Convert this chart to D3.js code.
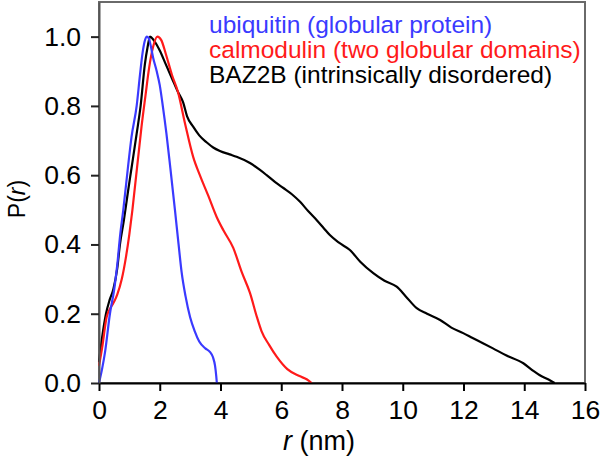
<!DOCTYPE html>
<html>
<head>
<meta charset="utf-8">
<script src="https://cdn.jsdelivr.net/npm/d3@7/dist/d3.min.js"></script>
<style>
  html, body { margin: 0; padding: 0; background: #fff; }
  svg { display: block; font-family: "Liberation Sans", Arial, Helvetica, sans-serif; }
</style>
</head>
<body>
<svg id="chart" width="600" height="461"></svg>
<script>
// ---- data ----
const ubiquitinR = [0, 0.1, 0.2, 0.36, 0.5, 0.6, 0.7, 0.8, 0.95, 1.07, 1.24, 1.35, 1.43, 1.5, 1.57, 1.64, 1.7, 1.78, 1.9, 2.0, 2.1, 2.22, 2.35, 2.5, 2.62, 2.72, 2.85, 3.0, 3.15, 3.3, 3.5, 3.65, 3.75, 3.82, 3.86, 3.88];
const ubiquitinP = [0, 0.04, 0.09, 0.2, 0.27, 0.34, 0.43, 0.5, 0.62, 0.71, 0.8, 0.89, 0.95, 0.985, 1.0, 0.995, 0.975, 0.94, 0.9, 0.86, 0.8, 0.72, 0.62, 0.5, 0.4, 0.32, 0.25, 0.19, 0.15, 0.12, 0.1, 0.09, 0.075, 0.05, 0.02, 0];

const calmodulinR = [0, 0.1, 0.25, 0.4, 0.5, 0.6, 0.75, 0.89, 1.0, 1.1, 1.2, 1.3, 1.4, 1.53, 1.65, 1.78, 1.92, 2.05, 2.2, 2.4, 2.6, 2.83, 3.1, 3.32, 3.6, 3.87, 4.1, 4.42, 4.7, 4.97, 5.2, 5.35, 5.6, 5.85, 6.2, 6.6, 6.85, 7.0];
const calmodulinP = [0.05, 0.1, 0.19, 0.22, 0.235, 0.255, 0.3, 0.365, 0.43, 0.5, 0.58, 0.66, 0.74, 0.83, 0.91, 0.97, 1.0, 0.99, 0.95, 0.89, 0.84, 0.75, 0.653, 0.6, 0.54, 0.48, 0.44, 0.39, 0.32, 0.26, 0.19, 0.15, 0.11, 0.076, 0.04, 0.02, 0.01, 0];

const baz2bR = [0, 0.1, 0.23, 0.35, 0.47, 0.6, 0.69, 0.82, 0.95, 1.07, 1.24, 1.37, 1.51, 1.6, 1.68, 1.8, 2.0, 2.2, 2.4, 2.6, 2.77, 2.9, 3.1, 3.3, 3.54, 3.76, 3.98, 4.3, 4.53, 4.97, 5.3, 5.52, 5.8, 6.07, 6.35, 6.62, 6.9, 7.17, 7.4, 7.6, 7.9, 8.26, 8.6, 9.03, 9.4, 9.8, 10.1, 10.46, 10.8, 11.23, 11.6, 11.99, 12.3, 12.64, 12.97, 13.4, 13.97, 14.3, 14.5, 14.8, 15.0];
const baz2bP = [0.06, 0.13, 0.2, 0.24, 0.27, 0.33, 0.4, 0.47, 0.55, 0.62, 0.72, 0.8, 0.92, 0.97, 1.0, 0.99, 0.96, 0.92, 0.88, 0.84, 0.81, 0.77, 0.74, 0.715, 0.695, 0.68, 0.67, 0.66, 0.653, 0.635, 0.615, 0.6, 0.58, 0.563, 0.545, 0.523, 0.495, 0.47, 0.447, 0.427, 0.405, 0.384, 0.35, 0.317, 0.295, 0.278, 0.25, 0.216, 0.2, 0.182, 0.16, 0.144, 0.13, 0.115, 0.1, 0.08, 0.057, 0.035, 0.023, 0.01, 0];

const seriesNames = ["ubiquitin (globular protein)", "calmodulin (two globular domains)", "BAZ2B (intrinsically disordered)"];
const seriesColors = ["#3a3aff", "#ff1a1a", "#000000"];
const xTicks = [0, 2, 4, 6, 8, 10, 12, 14, 16];
const yTicks = [0.0, 0.2, 0.4, 0.6, 0.8, 1.0];

// ---- layout ----
const svg = d3.select("#chart");
const mLeft = 99, mRight = 585, mTop = 2, mBottom = 383;

const x = d3.scaleLinear().domain([0, 16]).range([mLeft, mRight]);
const y = d3.scaleLinear().domain([0, 1.1]).range([mBottom, mTop]);

// frame (top/right)
svg.append("rect")
  .attr("x", mLeft).attr("y", mTop)
  .attr("width", mRight - mLeft).attr("height", mBottom - mTop)
  .attr("fill", "none").attr("stroke", "#6a6a6a").attr("stroke-width", 2);

// curves
const seriesData = [
  d3.zip(ubiquitinR, ubiquitinP),
  d3.zip(calmodulinR, calmodulinP),
  d3.zip(baz2bR, baz2bP)
];
const line = d3.line().x(d => x(d[0])).y(d => y(d[1])).curve(d3.curveMonotoneX);

const order = [2, 1, 0];
order.forEach(i => {
  svg.append("path")
    .datum(seriesData[i])
    .attr("d", line)
    .attr("fill", "none")
    .attr("stroke", seriesColors[i])
    .attr("stroke-width", 2.2)
    .attr("stroke-linejoin", "round");
});

// axes
const xAxis = svg.append("g")
  .attr("transform", `translate(0,${mBottom})`)
  .call(d3.axisBottom(x).tickValues(xTicks).tickFormat(d3.format("d")).tickSize(8).tickPadding(9).tickSizeOuter(0));
xAxis.select(".domain").attr("stroke", "#000").attr("stroke-width", 2);
xAxis.selectAll(".tick line").attr("stroke", "#000").attr("stroke-width", 2);
xAxis.selectAll(".tick text").attr("font-size", 26.5).attr("fill", "#000")
  .attr("font-family", "Liberation Sans, Arial, sans-serif");

const yAxis = svg.append("g")
  .attr("transform", `translate(${mLeft},0)`)
  .call(d3.axisLeft(y).tickValues(yTicks).tickFormat(d3.format(".1f")).tickSize(8).tickPadding(10).tickSizeOuter(0));
yAxis.select(".domain").attr("stroke", "#555").attr("stroke-width", 2);
yAxis.selectAll(".tick line").attr("stroke", "#222").attr("stroke-width", 2);
yAxis.selectAll(".tick text").attr("font-size", 26.5).attr("fill", "#000")
  .attr("font-family", "Liberation Sans, Arial, sans-serif");

// axis labels
const yl = svg.append("text")
  .attr("transform", "translate(25,199) rotate(-90)")
  .attr("text-anchor", "middle")
  .attr("font-size", 23)
  .attr("fill", "#000");
yl.append("tspan").text("P(");
yl.append("tspan").attr("font-style", "italic").text("r");
yl.append("tspan").text(")");

const xl = svg.append("text")
  .attr("x", 319).attr("y", 450)
  .attr("text-anchor", "middle")
  .attr("font-size", 27)
  .attr("fill", "#000");
xl.append("tspan").attr("font-style", "italic").text("r");
xl.append("tspan").text(" (nm)");

// legend
const legendY = [33, 58, 83];
seriesNames.forEach((name, i) => {
  svg.append("text")
    .attr("x", 209).attr("y", legendY[i])
    .attr("font-size", 24.5)
    .attr("fill", seriesColors[i])
    .text(name);
});
</script>
</body>
</html>
